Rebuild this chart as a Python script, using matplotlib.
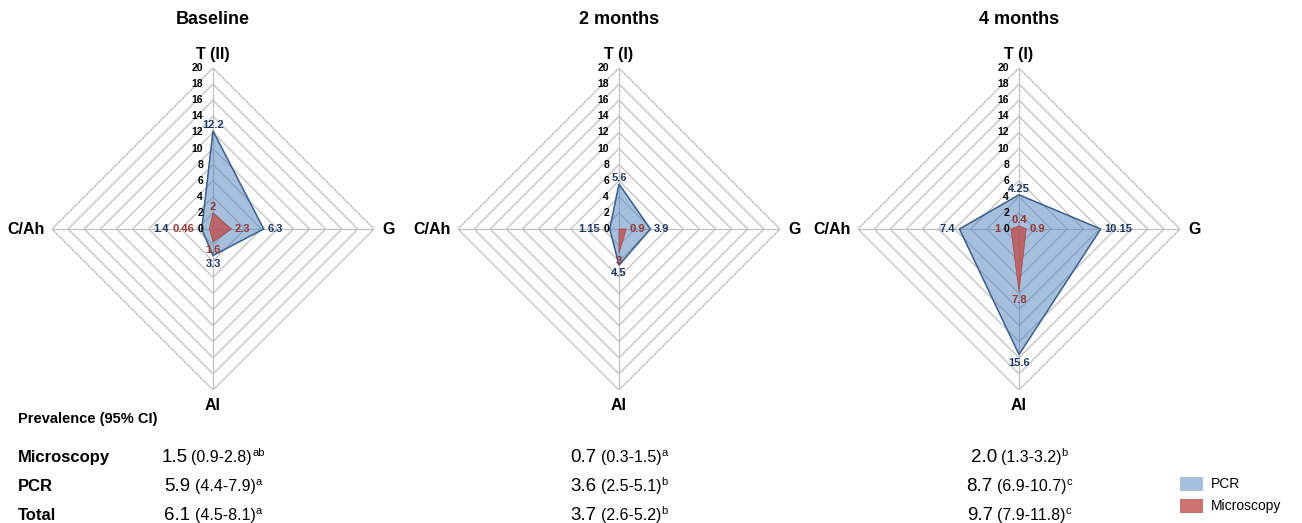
import matplotlib
matplotlib.use('Agg')
from matplotlib import pyplot as plt, rcParams
from matplotlib.patches import Polygon, Rectangle
import numpy as np

rcParams['font.family'] = ['Liberation Sans', 'DejaVu Sans']

# 雷达图数据：轴顺序为 上(T)、右(G)、下(Al)、左(C/Ah)
panel_titles = ['Baseline', '2 months', '4 months']
top_names = ['T (II)', 'T (I)', 'T (I)']
side_names = ['G', 'Al', 'C/Ah']

pcr = [[12.2, 6.3, 3.3, 1.4],
       [5.6, 3.9, 4.5, 1.15],
       [4.25, 10.15, 15.6, 7.4]]
microscopy = [[2, 2.3, 1.6, 0.46],
              [0, 0.9, 3, 0],
              [0.4, 0.9, 7.8, 1]]

ring_ticks = np.arange(0, 21, 2)

# 患病率 (95% CI)
row_names = ['Microscopy', 'PCR', 'Total']
prev_est = [[1.5, 0.7, 2.0],
            [5.9, 3.6, 8.7],
            [6.1, 3.7, 9.7]]
prev_low = [[0.9, 0.3, 1.3],
            [4.4, 2.5, 6.9],
            [4.5, 2.6, 7.9]]
prev_high = [[2.8, 1.5, 3.2],
             [7.9, 5.1, 10.7],
             [8.1, 5.2, 11.8]]
prev_sup = [['ab', 'a', 'b'],
            ['a', 'b', 'c'],
            ['a', 'b', 'c']]

W, H = 1302, 523
centers = [213, 619, 1019]   # 每个雷达图中心 x (像素)
cy = 229
R = 161
u = 20 / R                   # 1 像素对应的数据单位

pcr_fill, pcr_edge, pcr_text = '#4F81BD', '#3A5E8C', '#1F3A60'
mic_fill, mic_edge, mic_text = '#C0504D', '#A8423F', '#953735'
grid_color = '#C0C0C0'
lab_size = 8

dirs = [(0, 1), (1, 0), (0, -1), (-1, 0)]

fig = plt.figure(figsize=(W / 100, H / 100), dpi=100)
renderer = fig.canvas.get_renderer()


def px(x, y):
    return x / W, 1 - y / H


def radar(vals):
    return [(d[0] * v, d[1] * v) for d, v in zip(dirs, vals)]


def label_point(ax, k, v, color):
    # k: 轴编号（上、右、下），值为 0 时不标
    if v == 0:
        return
    kw = dict(color=color, fontsize=lab_size, fontweight='bold', zorder=5)
    if k == 0:
        ax.text(0, v + 3 * u, f'{v:g}', ha='center', va='baseline', **kw)
    elif k == 1:
        ax.text(v + 3.5 * u, 0, f'{v:g}', ha='left', va='center', **kw)
    elif k == 2:
        ax.text(0, -v - 3 * u, f'{v:g}', ha='center', va='top', **kw)


for i in range(3):
    cx = centers[i]
    ax = fig.add_axes([(cx - R) / W, (H - cy - R) / H, 2 * R / W, 2 * R / H])
    ax.set_xlim(-20, 20)
    ax.set_ylim(-20, 20)
    ax.axis('off')

    # 网格（菱形）和辐射线
    for r in ring_ticks[1:]:
        ax.add_patch(Polygon(radar([r] * 4), closed=True, fill=False,
                             ec=grid_color, lw=0.9, zorder=1))
    ax.plot([0, 0], [-20, 20], color=grid_color, lw=0.9, zorder=1)
    ax.plot([-20, 20], [0, 0], color=grid_color, lw=0.9, zorder=1)

    # 数据区域
    ax.add_patch(Polygon(radar(pcr[i]), closed=True, fc=pcr_fill, alpha=0.5,
                         ec='none', zorder=2))
    ax.add_patch(Polygon(radar(pcr[i]), closed=True, fill=False,
                         ec=pcr_edge, lw=1.1, zorder=3))
    ax.add_patch(Polygon(radar(microscopy[i]), closed=True, fc=mic_fill, alpha=0.8,
                         ec=mic_edge, lw=0.6, zorder=4))

    # 刻度
    for t in ring_ticks:
        ax.text(-10 * u, t, str(t), ha='right', va='center', fontsize=7.5,
                fontweight='bold', zorder=5)

    # 轴名称
    ax.text(0, 20 + 9 * u, top_names[i], ha='center', va='baseline', fontsize=11.5,
            fontweight='bold', clip_on=False)
    ax.text(20 + 8 * u, 0, side_names[0], ha='left', va='center', fontsize=11.5,
            fontweight='bold', clip_on=False)
    ax.text(0, -20 - 15 * u, side_names[1], ha='center', va='center', fontsize=11.5,
            fontweight='bold', clip_on=False)
    ax.text(-20 - 7 * u, 0, side_names[2], ha='right', va='center', fontsize=11.5,
            fontweight='bold', clip_on=False)

    # 数据标签
    for k in range(3):
        label_point(ax, k, microscopy[i][k], mic_text)
        label_point(ax, k, pcr[i][k], pcr_text)

    # 左侧标签：避开 0 刻度，PCR 标签再避开 Microscopy 标签
    left_edge = None
    vm = microscopy[i][3]
    if vm != 0:
        xr = min(-vm - 4 * u, -19 * u)
        tm = ax.text(xr, 0, f'{vm:g}', ha='right', va='center', color=mic_text,
                     fontsize=lab_size, fontweight='bold', zorder=5)
        bb = tm.get_window_extent(renderer)
        left_edge = xr - bb.width * u
    vp = pcr[i][3]
    xr = min(-vp - 4 * u, -19 * u)
    if left_edge is not None and xr > left_edge - 3 * u and vp < 4:
        xr = left_edge - 3 * u
    ax.text(xr, 0, f'{vp:g}', ha='right', va='center', color=pcr_text,
            fontsize=lab_size, fontweight='bold', zorder=5)

    fig.text(*px(cx, 24), panel_titles[i], ha='center', va='baseline',
             fontsize=13, fontweight='bold')

# 患病率表格
fig.text(*px(18, 423), 'Prevalence (95% CI)', ha='left', va='baseline',
         fontsize=10.5, fontweight='bold')
row_y = [462, 491, 520]
for j in range(3):
    fig.text(*px(18, row_y[j]), row_names[j], ha='left', va='baseline',
             fontsize=12, fontweight='bold')
    for i in range(3):
        t1 = fig.text(0, 0, f'{prev_est[j][i]:.1f}', va='baseline', fontsize=13.5)
        t2 = fig.text(0, 0, f'({prev_low[j][i]:.1f}-{prev_high[j][i]:.1f})',
                      va='baseline', fontsize=11.5)
        t3 = fig.text(0, 0, prev_sup[j][i], va='baseline', fontsize=8)
        w1 = t1.get_window_extent(renderer).width
        w2 = t2.get_window_extent(renderer).width
        w3 = t3.get_window_extent(renderer).width
        gap = 4
        x0 = centers[i] - (w1 + gap + w2 + w3) / 2
        t1.set_position(px(x0, row_y[j]))
        t2.set_position(px(x0 + w1 + gap, row_y[j]))
        t3.set_position(px(x0 + w1 + gap + w2 + 0.5, row_y[j] - 6))

# 图例
fig.add_artist(Rectangle(px(1180, 491), 23 / W, 14 / H, transform=fig.transFigure,
                         fc=pcr_fill, alpha=0.5, ec='none'))
fig.add_artist(Rectangle(px(1180, 513), 23 / W, 14 / H, transform=fig.transFigure,
                         fc=mic_fill, alpha=0.8, ec='none'))
fig.text(*px(1211, 484), 'PCR', ha='left', va='center', fontsize=10)
fig.text(*px(1211, 506), 'Microscopy', ha='left', va='center', fontsize=10)

fig.savefig('out.png', dpi=100)
